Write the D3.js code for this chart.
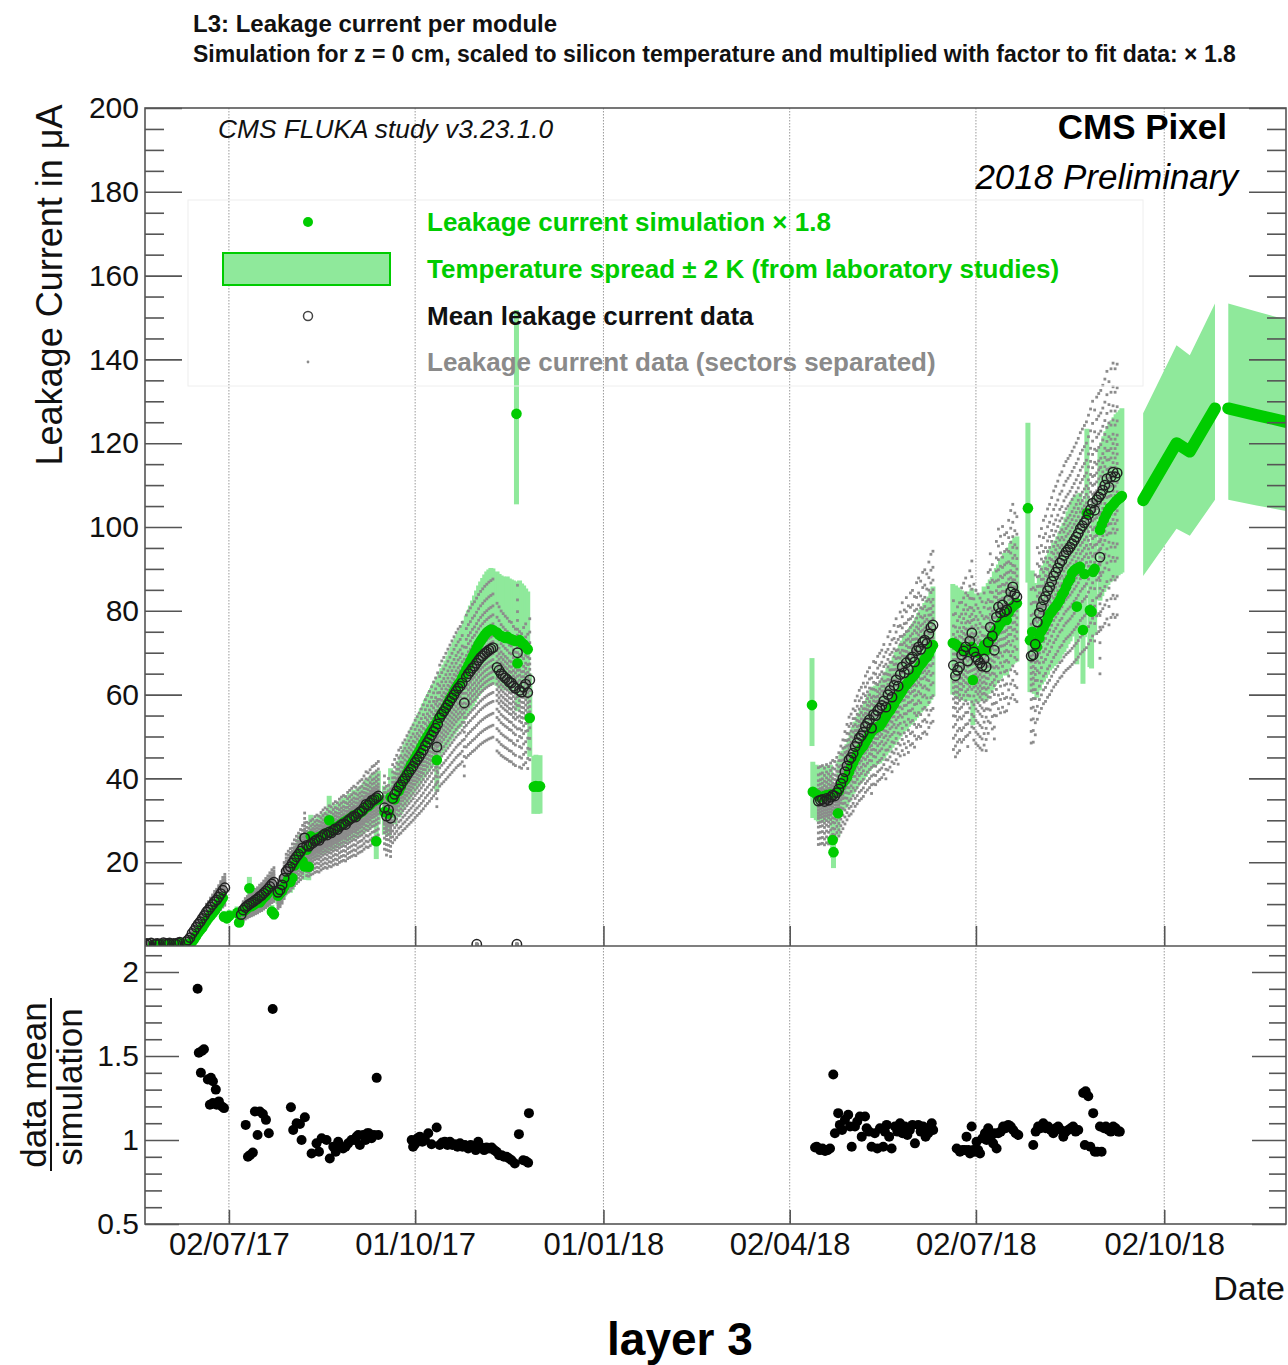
<!DOCTYPE html>
<html>
<head>
<meta charset="utf-8">
<script src="https://cdn.jsdelivr.net/npm/d3@7"></script>
<style>
  body { margin: 0; background: #fff; }
  svg text { font-family: "Liberation Sans", Arial, Helvetica, sans-serif; }
</style>
</head>
<body>
<svg id="chart" width="1288" height="1365"></svg>
<script>
// ---------------------------------------------------------------
// Data: days are counted from 2017-01-01, currents in µA
// ---------------------------------------------------------------

// Mean leakage current of the layer (open circles)
const mean2017 = [
  [141,0.5],[142,0.6],[143,0.4],[144,0.7],[146,0.5],[147,0.6],[148,0.4],[150,0.8],[151,0.6],[152,0.5],[153,0.7],[155,0.6],[156,0.5],[157,0.7],[158,0.9],
  [161,1.0],[162,1.4],[163,2.0],[164,3.0],[165,3.7],[166,4.5],[167,5.2],[168,5.8],[169,6.6],[170,7.3],[171,8.1],[172,8.6],[173,9.3],[174,9.9],[175,10.6],[176,11.0],[177,11.7],[178,12.5],[179,13.3],[180,13.9],
  [188,7.5],[189,8.6],[190,9.2],[191,9.6],[192,10.0],[193,10.3],[194,10.6],[195,11.0],[196,11.3],[197,11.8],[198,12.1],[199,12.6],[200,13.1],[201,13.6],[202,14.2],[203,14.8],[204,15.2],
  [206,12.8],[207,13.4],[208,14.6],[209,16.2],[210,17.8],[211,18.4],[212,18.9],[213,19.8],[214,20.6],[215,21.3],[216,21.9],[217,22.6],[218,23.4],[219,25.8],[220,24.0],[221,23.8],[222,24.3],[223,24.6],[224,25.1],[225,25.4],[226,25.2],[227,25.9],[228,26.4],[229,26.8],[230,26.5],[231,27.2],[232,27.0],[233,27.6],[234,28.0],[235,27.8],[236,28.5],[237,28.9],[238,29.2],[239,29.0],[240,29.8],[241,30.2],[242,30.6],[243,31.0],[244,30.8],[245,31.6],[246,32.0],[247,32.3],[248,33.0],[249,33.8],[250,33.6],[251,34.2],[252,34.8],[253,35.0],[254,35.4],[255,35.8],
  [258,33.0],[259,31.0],[260,32.5],[261,30.5],[262,35.2],[263,36.2],[264,37.0],[265,38.0],
  [266,38.5],[267,39.4],[268,40.0],[269,40.8],[270,41.5],[271,42.2],[272,42.9],[273,43.8],[274,44.5],[275,45.2],[276,46.0],[277,46.8],[278,47.8],[279,48.6],[280,49.4],[281,50.3],[282,51.2],[283,52.0],[283.6,47.5],[284,53.0],[285,54.5],[286,55.3],[287,56.0],[288,56.8],[289,57.6],[290,58.4],[291,59.2],[292,60.0],[293,60.8],[294,61.5],[295,62.0],[296,62.8],[297,58.0],[298,64.2],[299,65.0],[300,65.6],[301,66.3],[302,66.8],[303,67.5],[304,68.2],[305,68.8],[306,69.3],[307,69.8],[308,70.2],[309,70.6],[310,70.9],[311,71.2],[313,66.5],[314,65.8],[315,65.0],[316,64.5],[317,64.0],[318,63.6],[319,63.0],[320,62.8],[321,62.0],[322,61.5],[323,70.0],[324,61.0],[325,60.6],[326,61.8],[327,62.5],[328,60.5],[329,63.5],
  [303.1,0.4],[322.7,0.4]
];
const mean2018 = [
  [470,34.6],[471,34.8],[472,35.0],[473,34.5],[474,35.2],[475,34.8],[476,35.5],[477,36.0],[478,35.8],[479,36.6],[480,37.5],[481,38.8],[482,40.0],[483,41.6],[484,43.0],[485,44.4],[486,45.0],[487,46.0],[488,47.6],[489,48.5],[490,49.6],[491,50.2],[492,51.0],[493,52.4],[494,53.2],[495,54.0],[496,52.0],[497,55.2],[498,55.0],[499,56.2],[500,56.8],[501,57.4],[502,58.5],[503,57.0],[504,60.0],[505,61.0],[506,59.4],[507,62.2],[508,63.5],[509,62.0],[510,64.8],[511,66.6],[512,65.2],[513,67.6],[514,66.0],[515,68.5],[516,69.0],[517,67.8],[518,70.5],[519,71.4],[520,70.8],[521,72.5],[522,73.0],[523,72.2],[524,74.5],[525,76.0],[526,76.6],
  [536,67.0],[537,64.5],[538,65.8],[539,66.6],[540,69.5],[541,70.4],[542,71.4],[543,68.0],[544,72.8],[545,74.7],[546,70.2],[547,69.0],[548,68.3],[549,67.5],[550,66.8],[551,68.5],[552,66.6],[553,72.5],[554,76.1],[555,74.0],[556,70.6],[557,78.5],[558,80.9],[559,79.5],[560,81.4],[561,79.8],[562,80.2],[563,82.6],[564,84.5],[565,85.7],[566,84.0],[567,83.3],
  [574,69.2],[575,69.5],[576,72.0],[577,77.3],[578,79.5],[579,81.0],[580,82.6],[581,83.4],[582,84.8],[583,85.7],[584,87.0],[585,88.3],[586,89.2],[587,90.2],[588,91.4],[589,92.0],[590,93.2],[591,94.0],[592,94.6],[593,95.2],[594,96.0],[595,96.8],[596,97.6],[597,98.5],[598,99.6],[599,100.3],[600,101.0],[601,101.7],[602,103.0],[603,104.2],[604,105.7],[605,104.0],[606,106.5],[607,107.2],[607.6,92.8],[608,107.8],[609,108.8],[610,110.0],[611,111.5],[612,109.5],[613,112.0],[614,113.1],[615,112.0],[616,112.9]
];

// FLUKA simulation scaled by 1.8 (green dots)
const sim2017 = [
  [145,0.3],[147,0.3],[149,0.4],[150,0.3],[152,0.5],[154,0.4],[156,0.5],[158,0.6],[159,0.7],[160,0.5],
  [163,0.6],[164,1.0],[165,1.6],[166,2.4],[167,3.2],[168,3.8],[169,4.4],[170,5.2],[171,5.9],[172,6.6],[173,7.2],[174,7.8],[175,8.4],[176,9.2],[177,10.0],[178,10.8],[179,11.5],
  [179.6,7.0],[181,6.6],[182.2,7.2],
  [186,7.9],[187,5.6],[189,8.3],[190,8.6],[191,9.0],[192,13.8],[193,9.5],[194,9.8],[195,10.2],[196,10.5],[197,10.4],[198,11.0],[199,11.6],[200,12.0],[201,12.6],[202,13.3],[203,8.2],[204,7.6],
  [206,12.0],[207,12.6],[208,13.2],[209,14.2],[210,15.0],[211,16.0],[212,15.3],[213,16.2],[214,19.2],[215,20.1],[216,21.4],[217,22.2],[218,20.2],[219,19.0],[220,23.0],[221,18.9],[222,26.2],[223,25.0],[224,25.3],[225,25.5],[226,26.0],[227,26.2],[228,26.5],[229,26.7],[230,27.0],[231,30.0],[232,27.4],[233,27.8],[234,28.3],[235,28.4],[236,28.8],[237,29.1],[238,29.5],[239,29.7],[240,30.1],[241,30.4],[242,30.6],[243,31.2],[244,31.0],[245,31.4],[246,31.8],[247,32.1],[248,32.6],[249,33.2],[250,33.3],[251,33.8],[252,34.3],[253,34.6],[254,25.0],[255,35.0],
  [258,32.0],[260,31.6],[261,35.5],[263,35.0],[265,37.0],
  [266,38.0],[267,39.2],[268,40.3],[269,41.2],[270,42.2],[271,43.2],[272,44.0],[273,44.8],[274,45.7],[275,46.5],[276,47.5],[277,48.4],[278,49.2],[279,50.0],[280,50.8],[281,51.5],[282,52.3],[283,53.0],[283.6,44.4],[284,53.8],[285,54.6],[286,55.5],[287,56.2],[288,57.0],[289,58.0],[290,59.0],[291,59.8],[292,60.8],[293,61.6],[294,62.4],[295,63.0],[296,64.0],[297,65.0],[298,66.0],[299,67.0],[300,68.0],[301,69.0],[302,70.0],[303,71.0],[304,72.0],[305,72.8],[306,73.5],[307,74.2],[308,74.8],[309,75.2],[310,75.5],[311,75.4],[313,74.8],[314,74.3],[315,74.0],[316,73.8],[317,73.5],[318,73.8],[319,73.4],[320,73.2],[321,73.0],[322,72.8],[322.5,127.0],[323,67.5],[324,73.0],[325,72.4],[326,72.0],[327,71.4],[328,70.8],[329,54.4],[331,38.0],[332,38.2],[333,38.0],[334,38.1]
];
const sim2018 = [
  [466.9,57.5],[467.3,36.8],[469,36.2],[470,35.8],[471,35.5],[472,35.6],[473,35.8],[474,36.0],[476,36.2],[477,25.3],[477.4,22.4],[479.6,31.7],[480,37.0],[481,38.2],[482,39.0],[483,39.6],[484,40.3],[485,41.5],[486,42.8],[487,43.8],[488,44.8],[489,45.8],[490,46.6],[491,47.2],[492,47.8],[493,48.6],[494,49.5],[495,50.4],[496,51.2],[497,51.8],[498,52.0],[499,52.3],[500,52.5],[501,53.2],[502,54.0],[503,54.8],[504,55.6],[505,56.2],[506,57.0],[507,57.8],[508,58.7],[509,59.4],[510,60.2],[511,61.0],[512,61.8],[513,62.4],[514,63.0],[515,63.6],[516,64.2],[517,64.8],[518,65.6],[519,66.5],[520,67.2],[521,67.8],[522,68.5],[523,69.0],[524,69.8],[525,70.8],[526,71.8],
  [535.7,72.3],[537,72.0],[538,71.6],[539,71.2],[540,71.0],[541,70.6],[542,70.4],[543,70.8],[544,70.5],[545,71.4],[545.5,63.5],[546,70.2],[547,70.4],[548,70.0],[549,70.4],[550,70.6],[551,71.8],[552,70.6],[553,72.5],[554,73.2],[555,73.7],[556,74.8],[557,75.5],[558,76.2],[559,77.0],[560,77.8],[561,78.5],[562,77.8],[563,79.6],[564,80.5],[565,81.0],[566,81.5],[567,81.8],
  [572.4,104.5],
  [573.4,73.0],[574.5,75.0],[575.5,72.5],[576.8,71.4],[578,73.5],[579,75.2],[580,76.0],[581,77.0],[582,78.0],[583,79.2],[584,79.8],[585,80.5],[586,81.0],[587,81.8],[588,82.6],[589,83.8],[590,84.5],[591,85.6],[592,86.8],[593,87.6],[594,89.0],[595,89.6],[596,90.0],[596.3,81.0],[597,90.2],[597.8,90.5],[599.3,75.4],[600,88.8],[601.2,103.3],[602.7,80.2],[603.5,79.8],[604.2,89.3],[605,90.0],[607.6,99.3],[608.5,100.6],[609.5,101.8],[610.5,102.8],[611.5,103.8],[612.5,104.6],[613.5,105.0],[614.5,105.6],[615.5,106.2],[616.5,106.6],[617.5,107.0],[618.3,107.4]
];

// Simulated projection after the data period (two running periods)
const projectionA = [[628.7,106.4],[645.0,120.0],[651.5,118.0],[663.8,128.3]];
const projectionB = [[670.3,128.3],[684.1,126.7],[698.4,125.1]];

// Temperature spread of +-2 K expressed as factors on the simulation
const tempSpread = [0.83, 1.195];

// Individual sectors relative to the layer mean (grey points)
const sectorRatio = [0.70, 0.74, 0.78, 0.82, 0.85, 0.88, 0.90, 0.92, 0.94, 0.96, 0.98, 1.00, 1.02, 1.04, 1.06, 1.08, 1.11, 1.14, 1.18, 1.23];

// data mean / simulation
const ratio2017 = [
  [166.7,1.90],[167.3,1.52],[168.8,1.53],[169.8,1.54],[168.3,1.40],[171.7,1.36],[173.2,1.37],[174.2,1.35],[175.6,1.30],[172.7,1.21],[174.2,1.22],[176.0,1.21],[177.1,1.23],[178.6,1.20],[179.6,1.19],
  [190.2,1.09],[191.3,0.90],[192.3,0.91],[193.7,0.925],[196.0,1.03],[194.7,1.17],[197.1,1.17],[198.6,1.155],[200.1,1.12],[201.5,1.04],[203.4,1.78],
  [212.3,1.195],[213.4,1.06],[215.1,1.10],[216.7,1.095],[217.5,1.0],[219.1,1.135],[222.4,0.92],[224.8,0.98],[226.0,0.93],[227.3,1.01],[229.7,1.0],[231.3,0.89],[233.0,0.96],[234.2,0.93],[235.4,0.99],[236.6,0.96],[237.8,0.95],[239.0,0.96],[240.3,0.98],[241.9,1.0],[243.2,1.0],[244.4,1.02],[245.2,1.03],[246.0,0.97],[247.6,1.03],[248.8,1.0],[249.6,1.04],[250.4,1.04],[251.7,1.01],[252.9,1.03],[254.2,1.37],[255.0,1.03],
  [271.3,1.0],[272.0,0.96],[272.9,0.975],[274.1,1.01],[275.3,1.02],[276.5,0.99],[277.8,1.0],[279.4,1.04],[281.0,0.975],[283.5,1.075],[285.0,0.97],[286.2,0.985],[287.5,0.99],[288.8,0.97],[290.0,0.99],[291.2,0.97],[292.4,0.975],[293.7,0.96],[294.9,0.98],[296.1,0.96],[297.3,0.97],[298.9,0.95],[300.1,0.97],[301.4,0.96],[302.6,0.94],[303.8,0.99],[305.5,0.955],[306.7,0.94],[307.9,0.955],[309.1,0.95],[310.4,0.955],[311.6,0.94],[312.8,0.93],[314.0,0.91],[315.2,0.91],[316.4,0.90],[317.7,0.90],[318.9,0.89],[320.1,0.88],[321.7,0.86],[323.7,1.035],[325.8,0.88],[327.0,0.875],[328.2,0.865],[328.6,1.16]
];
const ratio2018 = [
  [468.4,0.955],[469.2,0.96],[470.8,0.94],[472.0,0.95],[473.3,0.935],[474.5,0.94],[475.7,0.95],[477.3,1.39],[478.1,1.04],[479.7,1.16],[480.5,1.09],[481.6,1.06],[483.0,1.12],[484.6,1.15],[485.5,1.08],[486.3,0.96],[487.9,1.08],[489.0,1.11],[490.3,1.14],[491.2,1.02],[492.8,1.14],[493.6,1.07],[494.8,1.05],[496.0,0.96],[497.6,1.04],[498.8,0.95],[500.1,1.07],[501.7,0.96],[502.5,1.05],[503.4,1.09],[504.6,1.02],[505.8,0.95],[507.4,1.08],[508.6,1.05],[509.9,1.10],[511.1,1.04],[512.3,1.08],[513.5,1.03],[514.7,1.06],[516.0,1.09],[517.2,0.98],[518.8,1.09],[520.0,1.05],[521.2,1.08],[522.4,1.02],[523.7,1.04],[524.5,1.07],[525.4,1.10],[526.1,1.06],
  [537.6,0.95],[539.2,0.93],[540.4,0.94],[541.6,0.94],[542.4,1.02],[543.3,0.94],[544.1,0.92],[544.9,1.08],[545.7,0.94],[546.5,0.93],[547.3,0.99],[548.1,0.94],[549.0,0.92],[550.2,1.01],[551.4,1.04],[552.2,1.0],[553.0,1.07],[554.2,1.02],[555.4,0.98],[556.2,1.04],[557.1,0.95],[557.9,1.04],[559.1,1.05],[560.3,1.08],[561.5,1.07],[562.8,1.09],[564.0,1.08],[565.2,1.06],[566.4,1.04],[567.7,1.03],
  [575.0,0.97],[576.2,1.05],[577.4,1.08],[578.6,1.07],[579.9,1.10],[581.1,1.07],[582.3,1.08],[583.5,1.06],[584.8,1.04],[586.0,1.07],[587.2,1.08],[588.5,1.06],[589.7,1.02],[590.9,1.05],[592.1,1.06],[593.3,1.07],[594.5,1.08],[595.7,1.05],[597.0,1.06],[599.4,1.28],[600.6,1.29],[601.9,1.26],[600.2,0.97],[602.9,0.96],[604.3,1.16],[605.1,0.93],[606.3,0.93],[607.6,1.08],[608.4,0.93],[609.6,1.07],[610.5,1.08],[611.7,1.06],[612.9,1.05],[614.1,1.08],[615.3,1.07],[616.5,1.05],[617.3,1.05]
];

// Axis ticks
const currentTicks = d3.range(20, 201, 20);
const currentMinor = d3.range(0, 201, 5).filter(v => v % 20 !== 0);
const ratioTicks = [0.5, 1, 1.5, 2];
const ratioMinor = d3.range(6, 22).map(v => v / 10).filter(v => !ratioTicks.includes(v));
const dateTicks = ["2017-07-02", "2017-10-01", "2018-01-01", "2018-04-02", "2018-07-02", "2018-10-02"];

// ---------------------------------------------------------------
// Drawing
// ---------------------------------------------------------------
const GREEN = "#00cc00";
const BAND = "#8fe99b";
const SECTOR = "#8c8c8c";
const AXIS = "#555";
const FONT = '"Liberation Sans", Arial, Helvetica, sans-serif';

const epoch = Date.UTC(2017, 0, 1);
const dayToDate = d => new Date(epoch + d * 864e5);
const parseDay = d3.utcParse("%Y-%m-%d");

const frame = { left: 145, right: 1286, top: 108, mid: 946, bottom: 1224 };

const x = d3.scaleUtc().domain([dayToDate(141), dayToDate(698.5)]).range([frame.left, frame.right]);
const y = d3.scaleLinear().domain([0, 200]).range([frame.mid, frame.top]);
const yr = d3.scaleLinear().domain([0.5, 2.155]).range([frame.bottom, frame.mid]);

const svg = d3.select("#chart");
svg.append("rect").attr("width", 1288).attr("height", 1365).attr("fill", "#fff");

const defs = svg.append("defs");
defs.append("clipPath").attr("id", "clipMain").append("rect")
  .attr("x", frame.left).attr("y", frame.top)
  .attr("width", frame.right - frame.left).attr("height", frame.mid - frame.top);
defs.append("clipPath").attr("id", "clipRatio").append("rect")
  .attr("x", frame.left).attr("y", frame.mid)
  .attr("width", frame.right - frame.left).attr("height", frame.bottom - frame.mid);

const tickDates = dateTicks.map(parseDay);

// dotted vertical grid at the date ticks
const grid = svg.append("g");
tickDates.forEach(t => {
  grid.append("line")
    .attr("x1", x(t)).attr("x2", x(t))
    .attr("y1", frame.top).attr("y2", frame.bottom)
    .attr("stroke", "#9a9a9a").attr("stroke-width", 1)
    .attr("stroke-dasharray", "1.5,1.5");
});

// ---- main panel ----
const main = svg.append("g").attr("clip-path", "url(#clipMain)");
const simAll = sim2017.concat(sim2018);
const meanAll = mean2017.concat(mean2018);

// temperature spread boxes around each simulation point
main.append("g").selectAll("rect").data(simAll).join("rect")
  .attr("x", d => x(dayToDate(d[0])) - 2.5)
  .attr("width", 5)
  .attr("y", d => y(d[1] * tempSpread[1]))
  .attr("height", d => y(d[1] * tempSpread[0]) - y(d[1] * tempSpread[1]))
  .attr("fill", BAND);

// projection spread bands
const bandArea = d3.area()
  .x(d => x(dayToDate(d[0])))
  .y0(d => y(d[1] * tempSpread[0]))
  .y1(d => y(d[1] * tempSpread[1]));
[projectionA, projectionB].forEach(p => {
  main.append("path").attr("d", bandArea(p)).attr("fill", BAND);
});

// sector data points
const sectorPts = [];
meanAll.forEach(d => sectorRatio.forEach(r => sectorPts.push([d[0], d[1] * r])));
main.append("g").selectAll("rect").data(sectorPts).join("rect")
  .attr("x", d => x(dayToDate(d[0])) - 1.4)
  .attr("y", d => y(d[1]) - 1.4)
  .attr("width", 2.8).attr("height", 2.8)
  .attr("fill", SECTOR);

// simulation points
main.append("g").selectAll("circle").data(simAll).join("circle")
  .attr("cx", d => x(dayToDate(d[0])))
  .attr("cy", d => y(d[1]))
  .attr("r", 5.3)
  .attr("fill", GREEN);

// projection lines
const projLine = d3.line().x(d => x(dayToDate(d[0]))).y(d => y(d[1]));
[projectionA, projectionB].forEach(p => {
  main.append("path").attr("d", projLine(p))
    .attr("fill", "none").attr("stroke", GREEN)
    .attr("stroke-width", 12).attr("stroke-linecap", "round").attr("stroke-linejoin", "round");
});

// mean data (open circles)
main.append("g").selectAll("circle").data(meanAll).join("circle")
  .attr("cx", d => x(dayToDate(d[0])))
  .attr("cy", d => y(d[1]))
  .attr("r", 4.7)
  .attr("fill", "none")
  .attr("stroke", "#222")
  .attr("stroke-width", 1.5);

// ---- ratio panel ----
const ratioG = svg.append("g").attr("clip-path", "url(#clipRatio)");
ratioG.selectAll("circle").data(ratio2017.concat(ratio2018)).join("circle")
  .attr("cx", d => x(dayToDate(d[0])))
  .attr("cy", d => yr(d[1]))
  .attr("r", 5)
  .attr("fill", "#000");

// ---- frames ----
svg.append("rect")
  .attr("x", frame.left).attr("y", frame.top)
  .attr("width", frame.right - frame.left).attr("height", frame.bottom - frame.top)
  .attr("fill", "none").attr("stroke", AXIS).attr("stroke-width", 1.6);
svg.append("line")
  .attr("x1", frame.left).attr("x2", frame.right)
  .attr("y1", frame.mid).attr("y2", frame.mid)
  .attr("stroke", AXIS).attr("stroke-width", 1.6);

// ---- axes ----
function styleAxis(g, size) {
  g.select(".domain").remove();
  g.selectAll(".tick line").attr("stroke", AXIS).attr("stroke-width", 1.6);
  g.selectAll(".tick text").attr("fill", "#111").style("font-size", size + "px").style("font-family", FONT);
}

// main current axis
svg.append("g").attr("transform", `translate(${frame.left},0)`)
  .call(d3.axisLeft(y).tickValues(currentTicks).tickSize(-37).tickPadding(6))
  .call(g => styleAxis(g, 30));
svg.append("g").attr("transform", `translate(${frame.left},0)`)
  .call(d3.axisLeft(y).tickValues(currentMinor).tickSize(-19).tickFormat(""))
  .call(g => styleAxis(g, 30));
svg.append("g").attr("transform", `translate(${frame.right},0)`)
  .call(d3.axisRight(y).tickValues(currentTicks).tickSize(-37).tickFormat(""))
  .call(g => styleAxis(g, 30));
svg.append("g").attr("transform", `translate(${frame.right},0)`)
  .call(d3.axisRight(y).tickValues(currentMinor).tickSize(-19).tickFormat(""))
  .call(g => styleAxis(g, 30));

// ratio axis
svg.append("g").attr("transform", `translate(${frame.left},0)`)
  .call(d3.axisLeft(yr).tickValues(ratioTicks).tickSize(-34).tickPadding(6).tickFormat(d => String(d)))
  .call(g => styleAxis(g, 30));
svg.append("g").attr("transform", `translate(${frame.left},0)`)
  .call(d3.axisLeft(yr).tickValues(ratioMinor).tickSize(-17).tickFormat(""))
  .call(g => styleAxis(g, 30));
svg.append("g").attr("transform", `translate(${frame.right},0)`)
  .call(d3.axisRight(yr).tickValues(ratioTicks).tickSize(-34).tickFormat(""))
  .call(g => styleAxis(g, 30));
svg.append("g").attr("transform", `translate(${frame.right},0)`)
  .call(d3.axisRight(yr).tickValues(ratioMinor).tickSize(-17).tickFormat(""))
  .call(g => styleAxis(g, 30));

// date axes
svg.append("g").attr("transform", `translate(0,${frame.mid})`)
  .call(d3.axisBottom(x).tickValues(tickDates).tickSize(-20).tickFormat(""))
  .call(g => styleAxis(g, 31));
svg.append("g").attr("transform", `translate(0,${frame.bottom})`)
  .call(d3.axisBottom(x).tickValues(tickDates).tickSize(-14).tickPadding(9).tickFormat(d3.utcFormat("%d/%m/%y")))
  .call(g => styleAxis(g, 31));

// ---- axis titles ----
svg.append("text")
  .attr("transform", "translate(62,285) rotate(-90)")
  .attr("text-anchor", "middle")
  .style("font-size", "36px").attr("fill", "#111")
  .text("Leakage Current in μA");

svg.append("text")
  .attr("transform", "translate(46,1085) rotate(-90)")
  .attr("text-anchor", "middle")
  .style("font-size", "35px").attr("fill", "#111")
  .text("data mean");
svg.append("line")
  .attr("x1", 51).attr("x2", 51).attr("y1", 998).attr("y2", 1171)
  .attr("stroke", "#111").attr("stroke-width", 2);
svg.append("text")
  .attr("transform", "translate(82,1087) rotate(-90)")
  .attr("text-anchor", "middle")
  .style("font-size", "35px").attr("fill", "#111")
  .text("simulation");

svg.append("text")
  .attr("x", 1285).attr("y", 1300).attr("text-anchor", "end")
  .style("font-size", "34px").attr("fill", "#111")
  .text("Date");

svg.append("text")
  .attr("x", 680).attr("y", 1355).attr("text-anchor", "middle")
  .style("font-size", "46px").style("font-weight", "bold").attr("fill", "#000")
  .text("layer 3");

// ---- titles and labels ----
svg.append("text")
  .attr("x", 193).attr("y", 32)
  .style("font-size", "24px").style("font-weight", "bold").attr("fill", "#111")
  .text("L3: Leakage current per module");
svg.append("text")
  .attr("x", 193).attr("y", 62)
  .style("font-size", "23px").style("font-weight", "bold").attr("fill", "#111")
  .text("Simulation for z = 0 cm, scaled to silicon temperature and multiplied with factor to fit data: × 1.8");

svg.append("text")
  .attr("x", 218).attr("y", 138)
  .style("font-size", "26.3px").style("font-style", "italic").attr("fill", "#111")
  .text("CMS FLUKA study v3.23.1.0");
svg.append("text")
  .attr("x", 1227).attr("y", 139).attr("text-anchor", "end")
  .style("font-size", "35px").style("font-weight", "bold").attr("fill", "#000")
  .text("CMS Pixel");
svg.append("text")
  .attr("x", 1238).attr("y", 189).attr("text-anchor", "end")
  .style("font-size", "35px").style("font-style", "italic").attr("fill", "#000")
  .text("2018 Preliminary");

// ---- legend ----
const legend = svg.append("g");
legend.append("rect")
  .attr("x", 188).attr("y", 200).attr("width", 955).attr("height", 186)
  .attr("fill", "none").attr("stroke", "#eeeeee").attr("stroke-width", 1);

const legendRows = [
  { key: "sim", text: "Leakage current simulation × 1.8", color: GREEN, cy: 222 },
  { key: "band", text: "Temperature spread ± 2 K (from laboratory studies)", color: GREEN, cy: 269 },
  { key: "mean", text: "Mean leakage current data", color: "#111", cy: 316 },
  { key: "sector", text: "Leakage current data (sectors separated)", color: "#8a8a8a", cy: 362 }
];
legendRows.forEach(r => {
  if (r.key === "sim") {
    legend.append("circle").attr("cx", 308).attr("cy", r.cy).attr("r", 5).attr("fill", GREEN);
  } else if (r.key === "band") {
    legend.append("rect").attr("x", 223).attr("y", r.cy - 16).attr("width", 167).attr("height", 32)
      .attr("fill", BAND).attr("stroke", GREEN).attr("stroke-width", 2);
  } else if (r.key === "mean") {
    legend.append("circle").attr("cx", 308).attr("cy", r.cy).attr("r", 4.5)
      .attr("fill", "none").attr("stroke", "#444").attr("stroke-width", 1.5);
  } else {
    legend.append("circle").attr("cx", 308).attr("cy", r.cy).attr("r", 1.4).attr("fill", SECTOR);
  }
  legend.append("text")
    .attr("x", 427).attr("y", r.cy + 9)
    .style("font-size", "26px").style("font-weight", "bold").attr("fill", r.color)
    .text(r.text);
});
</script>
</body>
</html>
